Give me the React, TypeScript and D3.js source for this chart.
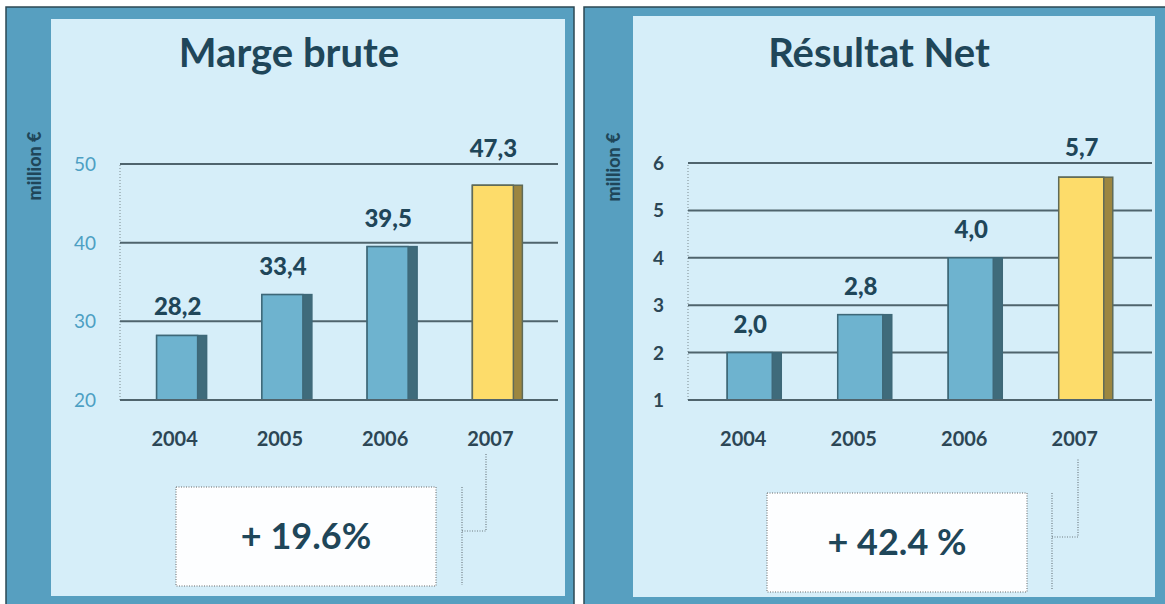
import * as d3 from "d3";

const WIDTH = 1165;
const HEIGHT = 604;

const YEARS = ["2004", "2005", "2006", "2007"];
const MARGE_VALUES = [28.2, 33.4, 39.5, 47.3];
const MARGE_TICKS = [20, 30, 40, 50];
const NET_VALUES = [2.0, 2.8, 4.0, 5.7];
const NET_TICKS = [1, 2, 3, 4, 5, 6];
const TITLES = ["Marge brute", "Résultat Net"];
const GROWTH = ["+ 19.6%", "+ 42.4 %"];
const UNIT = "million €";

const FONT = "Lato, 'Open Sans', sans-serif";
const DARK = "#1f4659";
const OUTER = "#579fc0";
const INNER = "#d6eef9";
const GRID = "#4f646d";
const BAR = "#6eb3cf";
const BAR_SIDE = "#3f6b7b";
const HILITE = "#fddc6a";
const HILITE_SIDE = "#9c8640";

interface PanelLayout {
  outer: [number, number, number, number];
  inner: [number, number, number, number];
  titleX: number;
  unitX: number;
  unitY: number;
  plotX: [number, number];
  plotY: [number, number];
  band: [number, number];
  padInner: number;
  tickX: number;
  tickLight: boolean;
  yearShift: number;
  box: [number, number, number, number];
  boxTextY: number;
  link: { x: number; y0: number; y1: number; hy: number; x2: number; top: number };
}

const LEFT: PanelLayout = {
  outer: [6, 7, 568, 600],
  inner: [51, 19, 514, 577],
  titleX: 289,
  unitX: 41,
  unitY: 166,
  plotX: [120, 558],
  plotY: [400, 164],
  band: [129, 550],
  padInner: 0.525,
  tickX: 96,
  tickLight: true,
  yearShift: -7,
  box: [176, 487, 260, 99],
  boxTextY: 549,
  link: { x: 462, y0: 487, y1: 585, hy: 531, x2: 486, top: 453 },
};

const RIGHT: PanelLayout = {
  outer: [584, 7, 590, 600],
  inner: [633, 16, 522, 581],
  titleX: 879,
  unitX: 620,
  unitY: 167,
  plotX: [688, 1152],
  plotY: [400, 163],
  band: [699, 1141],
  padInner: 0.511,
  tickX: 664,
  tickLight: false,
  yearShift: -11,
  box: [767, 493, 260, 99],
  boxTextY: 555,
  link: { x: 1052, y0: 493, y1: 590, hy: 537, x2: 1078, top: 458 },
};

const fmt = (v: number) => d3.format(".1f")(v).replace(".", ",");

function Panel({ L, title, values, ticks, growth }: {
  L: PanelLayout; title: string; values: number[]; ticks: number[]; growth: string;
}) {
  const y = d3.scaleLinear()
    .domain([ticks[0], ticks[ticks.length - 1]])
    .range(L.plotY);
  const x = d3.scaleBand<string>()
    .domain(YEARS)
    .range(L.band)
    .paddingInner(L.padInner)
    .paddingOuter(L.padInner / 2);
  const bw = x.bandwidth();
  const side = 9;
  const top = y(ticks[ticks.length - 1]);

  const [ox, oy, ow, oh] = L.outer;
  const [ix, iy, iw, ih] = L.inner;
  const [bx, by, bwid, bh] = L.box;
  const k = L.link;

  return (
    <g>
      <rect x={ox} y={oy} width={ow} height={oh} fill={OUTER} stroke="#2d4853" strokeWidth={1.5} />
      <rect x={ix} y={iy} width={iw} height={ih} fill={INNER} />

      <text x={L.titleX} y={67} textAnchor="middle" fontFamily={FONT} fontWeight={700}
        fontSize={40} fill={DARK}>{title}</text>

      <text transform={`translate(${L.unitX},${L.unitY}) rotate(-90)`} textAnchor="middle"
        fontFamily={FONT} fontWeight={900} fontSize={18} fill={DARK}>{UNIT}</text>

      {/* dotted y axis */}
      <line x1={L.plotX[0]} x2={L.plotX[0]} y1={L.plotY[0]} y2={L.plotY[1]}
        stroke="#7d8b90" strokeWidth={1} strokeDasharray="1,2" />

      {/* gridlines + tick labels */}
      {ticks.map(t => (
        <g key={t}>
          <line x1={L.plotX[0]} x2={L.plotX[1]} y1={y(t)} y2={y(t)} stroke={GRID} strokeWidth={2} />
          <text x={L.tickX} y={y(t) + 7} textAnchor="end" fontFamily={FONT}
            fontWeight={L.tickLight ? 400 : 700} fontSize={19}
            fill={L.tickLight ? "#4d9fc3" : "#2c4655"}>{t}</text>
        </g>
      ))}

      {/* bars */}
      {values.map((v, i) => {
        const yr = YEARS[i];
        const x0 = x(yr)!;
        const yt = y(v);
        const hl = i === values.length - 1;
        let lb = yt - 20;
        if (lb > top - 6 && lb < top + 22) lb = top - 7;
        return (
          <g key={yr}>
            <rect x={x0} y={yt} width={bw} height={L.plotY[0] - yt}
              fill={hl ? HILITE_SIDE : BAR_SIDE} stroke={hl ? "#5f6a58" : "#3e6878"} strokeWidth={1.5} />
            <rect x={x0} y={yt} width={bw - side} height={L.plotY[0] - yt}
              fill={hl ? HILITE : BAR} stroke={hl ? "#5f6a58" : "#3e6878"} strokeWidth={1.5} />
            <text x={x0 + bw / 2 - 4} y={lb} textAnchor="middle" fontFamily={FONT}
              fontWeight={900} fontSize={24} fill={DARK}>{fmt(v)}</text>
            <text x={x0 + bw / 2 + L.yearShift} y={446} textAnchor="middle" fontFamily={FONT}
              fontWeight={700} fontSize={20} fill="#2c4655">{yr}</text>
          </g>
        );
      })}

      {/* baseline */}
      <line x1={L.plotX[0]} x2={L.plotX[1]} y1={L.plotY[0]} y2={L.plotY[0]} stroke={GRID} strokeWidth={2} />

      {/* growth box */}
      <rect x={bx} y={by} width={bwid} height={bh} fill="#fdfeff" stroke="#666" strokeWidth={1}
        strokeDasharray="1,1.5" />
      <text x={bx + bwid / 2} y={L.boxTextY} textAnchor="middle" fontFamily={FONT}
        fontWeight={700} fontSize={36} fill={DARK}>{growth}</text>

      {/* bracket connector */}
      <path d={`M${k.x},${k.y0}V${k.y1}M${k.x},${k.hy}H${k.x2}V${k.top}`} fill="none"
        stroke="#6f7c82" strokeWidth={1.2} strokeDasharray="1,1.5" />
    </g>
  );
}

export default function App() {
  return (
    <svg width={WIDTH} height={HEIGHT} viewBox={`0 0 ${WIDTH} ${HEIGHT}`}
      style={{ position: "absolute", left: 0, top: 0, background: "#fff" }}>
      <Panel L={LEFT} title={TITLES[0]} values={MARGE_VALUES} ticks={MARGE_TICKS} growth={GROWTH[0]} />
      <Panel L={RIGHT} title={TITLES[1]} values={NET_VALUES} ticks={NET_TICKS} growth={GROWTH[1]} />
    </svg>
  );
}
